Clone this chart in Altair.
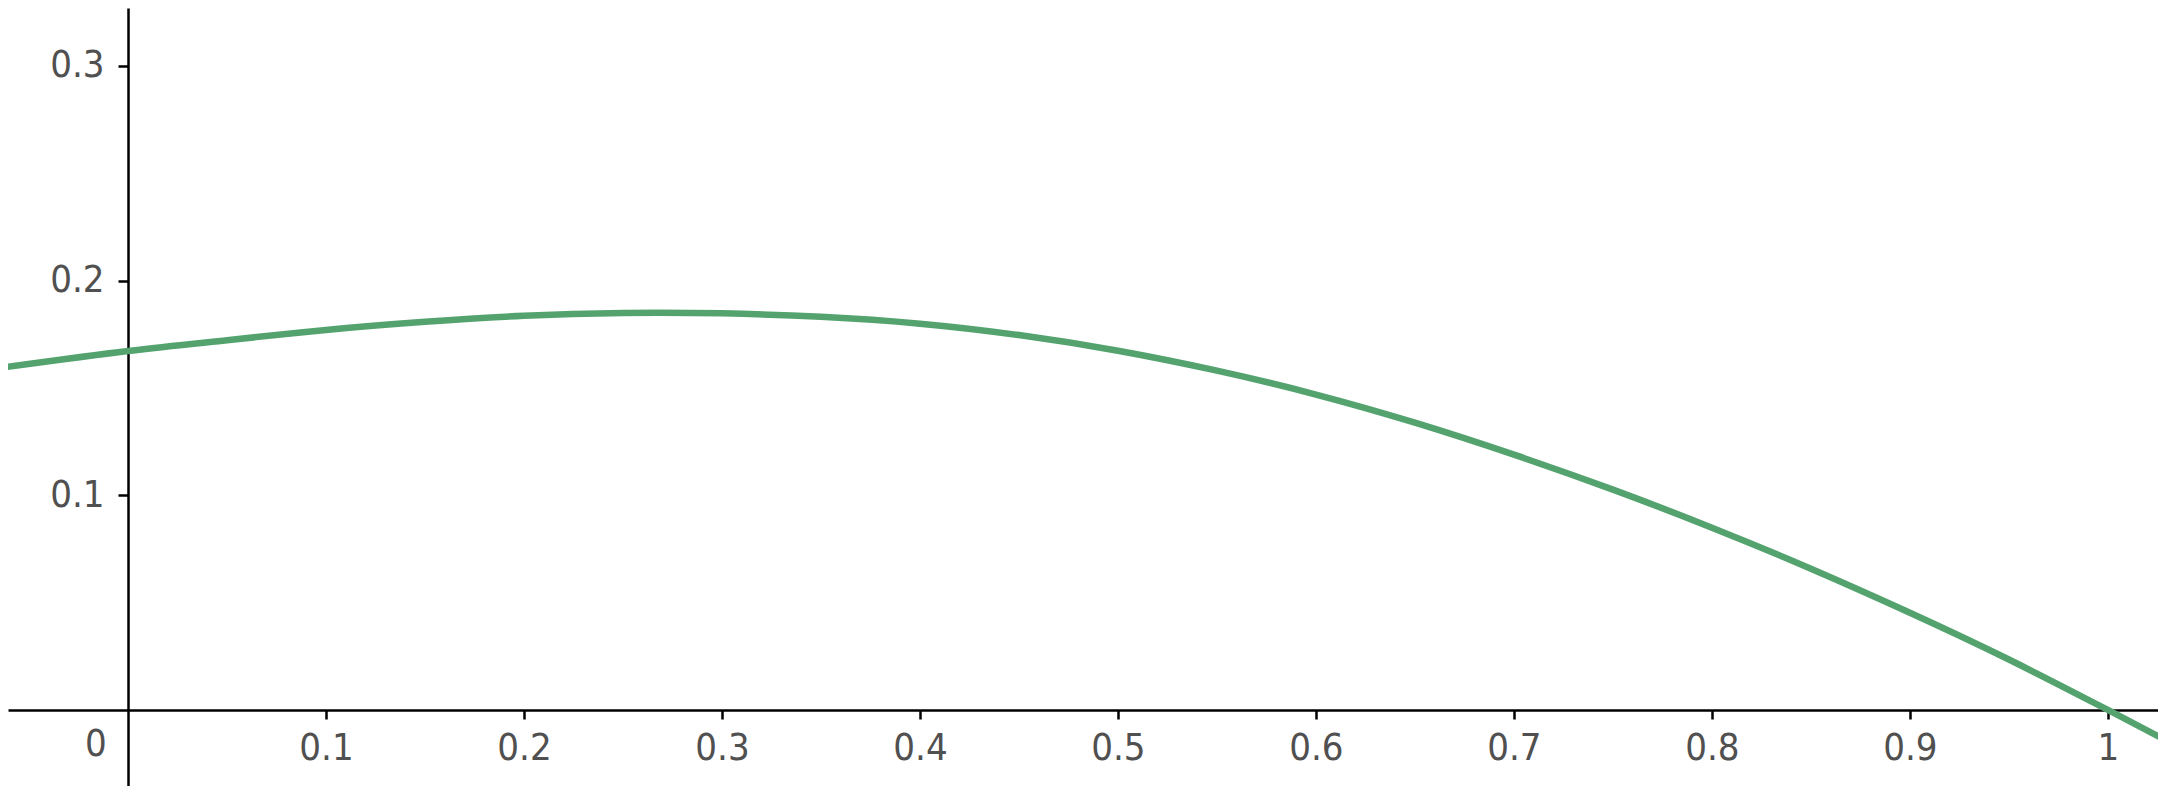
import altair as alt
import pandas as pd

# curve values
xs = [-0.061, 0.0, 0.05, 0.1, 0.15, 0.2, 0.25, 0.3, 0.35, 0.4, 0.45, 0.5,
      0.55, 0.6, 0.65, 0.7, 0.75, 0.8, 0.85, 0.9, 0.95, 1.0, 1.026]
ys = [0.1598, 0.1672, 0.1722, 0.1770, 0.1808, 0.1836, 0.1849, 0.1847, 0.1831, 0.1799,
      0.1746, 0.1673, 0.1580, 0.1469, 0.1338, 0.1189, 0.1026, 0.0849, 0.0658, 0.0453,
      0.0235, 0.0, -0.0125]

x_ticks = [0.1, 0.2, 0.3, 0.4, 0.5, 0.6, 0.7, 0.8, 0.9, 1.0]
y_ticks = [0.1, 0.2, 0.3]
origin_label = ["0"]

x_domain = [-0.0606, 1.0253]
y_domain = [-0.0354, 0.3269]

FONT = "Liberation Sans Narrow, DejaVu Sans Condensed, Arial Narrow, sans-serif"
LABEL_COLOR = "#505050"
LABEL_SIZE = 38

curve = pd.DataFrame({"x": xs, "y": ys})
origin = pd.DataFrame({"x": [0.0], "y": [0.0], "t": origin_label})

x_scale = alt.Scale(domain=x_domain, nice=False, zero=False)
y_scale = alt.Scale(domain=y_domain, nice=False, zero=False)

x_axis = alt.Axis(values=x_ticks, format="~g", offset=-76, title=None, grid=False,
                  domainColor="black", domainWidth=2.5, tickColor="black", tickWidth=2.5,
                  tickSize=9, labelFont=FONT, labelFontSize=LABEL_SIZE, labelColor=LABEL_COLOR,
                  labelPadding=10, labelFlush=False, labelOverlap=False)
y_axis = alt.Axis(values=y_ticks, format="~g", offset=-120, title=None, grid=False,
                  domainColor="black", domainWidth=2.5, tickColor="black", tickWidth=2.5,
                  tickSize=10, labelFont=FONT, labelFontSize=LABEL_SIZE, labelColor=LABEL_COLOR,
                  labelPadding=14, labelFlush=False, labelOverlap=False)

line = alt.Chart(curve).mark_line(color="#54a36f", strokeWidth=6.5, clip=True,
                                  interpolate="natural").encode(
    x=alt.X("x:Q", scale=x_scale, axis=x_axis),
    y=alt.Y("y:Q", scale=y_scale, axis=y_axis),
)

zero_text = alt.Chart(origin).mark_text(font=FONT, fontSize=LABEL_SIZE, color=LABEL_COLOR,
                                        dx=-32, dy=35, align="center",
                                        baseline="middle").encode(
    x=alt.X("x:Q", scale=x_scale),
    y=alt.Y("y:Q", scale=y_scale),
    text="t:N",
)

chart = alt.layer(line, zero_text).properties(
    width=2150, height=778,
    autosize=alt.AutoSizeParams(type="none"),
    padding=0,
).configure_view(strokeWidth=0)

chart.save("out.html", embed_options={"renderer": "svg", "actions": False})
